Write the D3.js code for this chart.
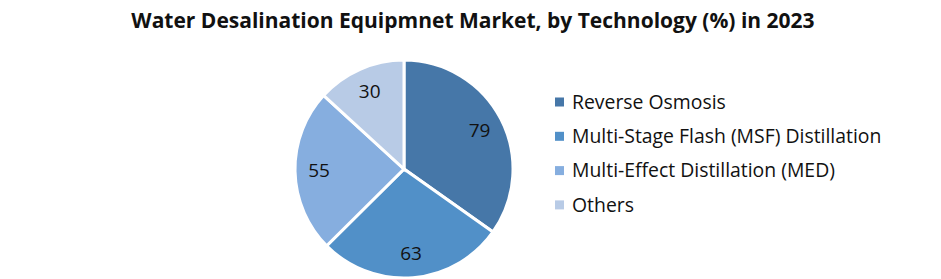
<!DOCTYPE html>
<html>
<head>
<meta charset="utf-8">
<script src="https://cdn.jsdelivr.net/npm/d3@7"></script>
<style>
  body { margin: 0; background: #fff; }
  svg { display: block; font-family: "Open Sans", sans-serif; }
</style>
</head>
<body>
<div id="chart"></div>
<script>
const categories = ["Reverse Osmosis", "Multi-Stage Flash (MSF) Distillation", "Multi-Effect Distillation (MED)", "Others"];
const values = [79, 63, 55, 30];
const colors = ["#4677a8", "#5190c8", "#86aedf", "#b8cbe6"];
const title = "Water Desalination Equipmnet Market, by Technology (%) in 2023";

const width = 941, height = 279;
const cx = 404, cy = 169, radius = 109;

const svg = d3.select("#chart")
  .append("svg")
  .attr("width", width)
  .attr("height", height);

svg.append("text")
  .attr("x", 473).attr("y", 28)
  .attr("text-anchor", "middle")
  .style("font-size", "21px")
  .style("font-weight", "bold")
  .attr("fill", "#111")
  .text(title);

const pie = d3.pie().sort(null).value(d => d.value);
const arc = d3.arc().innerRadius(0).outerRadius(radius);
const labelArc = d3.arc().innerRadius(85).outerRadius(85);

const data = categories.map((c, i) => ({ name: c, value: values[i], color: colors[i] }));

const g = svg.append("g").attr("transform", `translate(${cx},${cy})`);

g.selectAll("path")
  .data(pie(data))
  .enter()
  .append("path")
  .attr("d", arc)
  .attr("fill", d => d.data.color)
  .attr("stroke", "#fff")
  .attr("stroke-width", 3);

g.selectAll(".lbl")
  .data(pie(data))
  .enter()
  .append("text")
  .attr("class", "lbl")
  .attr("transform", d => `translate(${labelArc.centroid(d)})`)
  .attr("text-anchor", "middle")
  .attr("dy", "0.35em")
  .style("font-size", "19px")
  .attr("fill", "#111")
  .text(d => d.data.value);

const legend = svg.append("g").attr("transform", "translate(555,102)");
data.forEach((d, i) => {
  const row = legend.append("g").attr("transform", `translate(0,${i * 34.3})`);
  row.append("rect")
    .attr("x", 0).attr("y", -4.5)
    .attr("width", 9).attr("height", 9)
    .attr("fill", d.color);
  row.append("text")
    .attr("x", 17).attr("y", 0)
    .attr("dy", "0.35em")
    .style("font-size", "19.4px")
    .attr("fill", "#111")
    .text(d.name);
});
</script>
</body>
</html>
